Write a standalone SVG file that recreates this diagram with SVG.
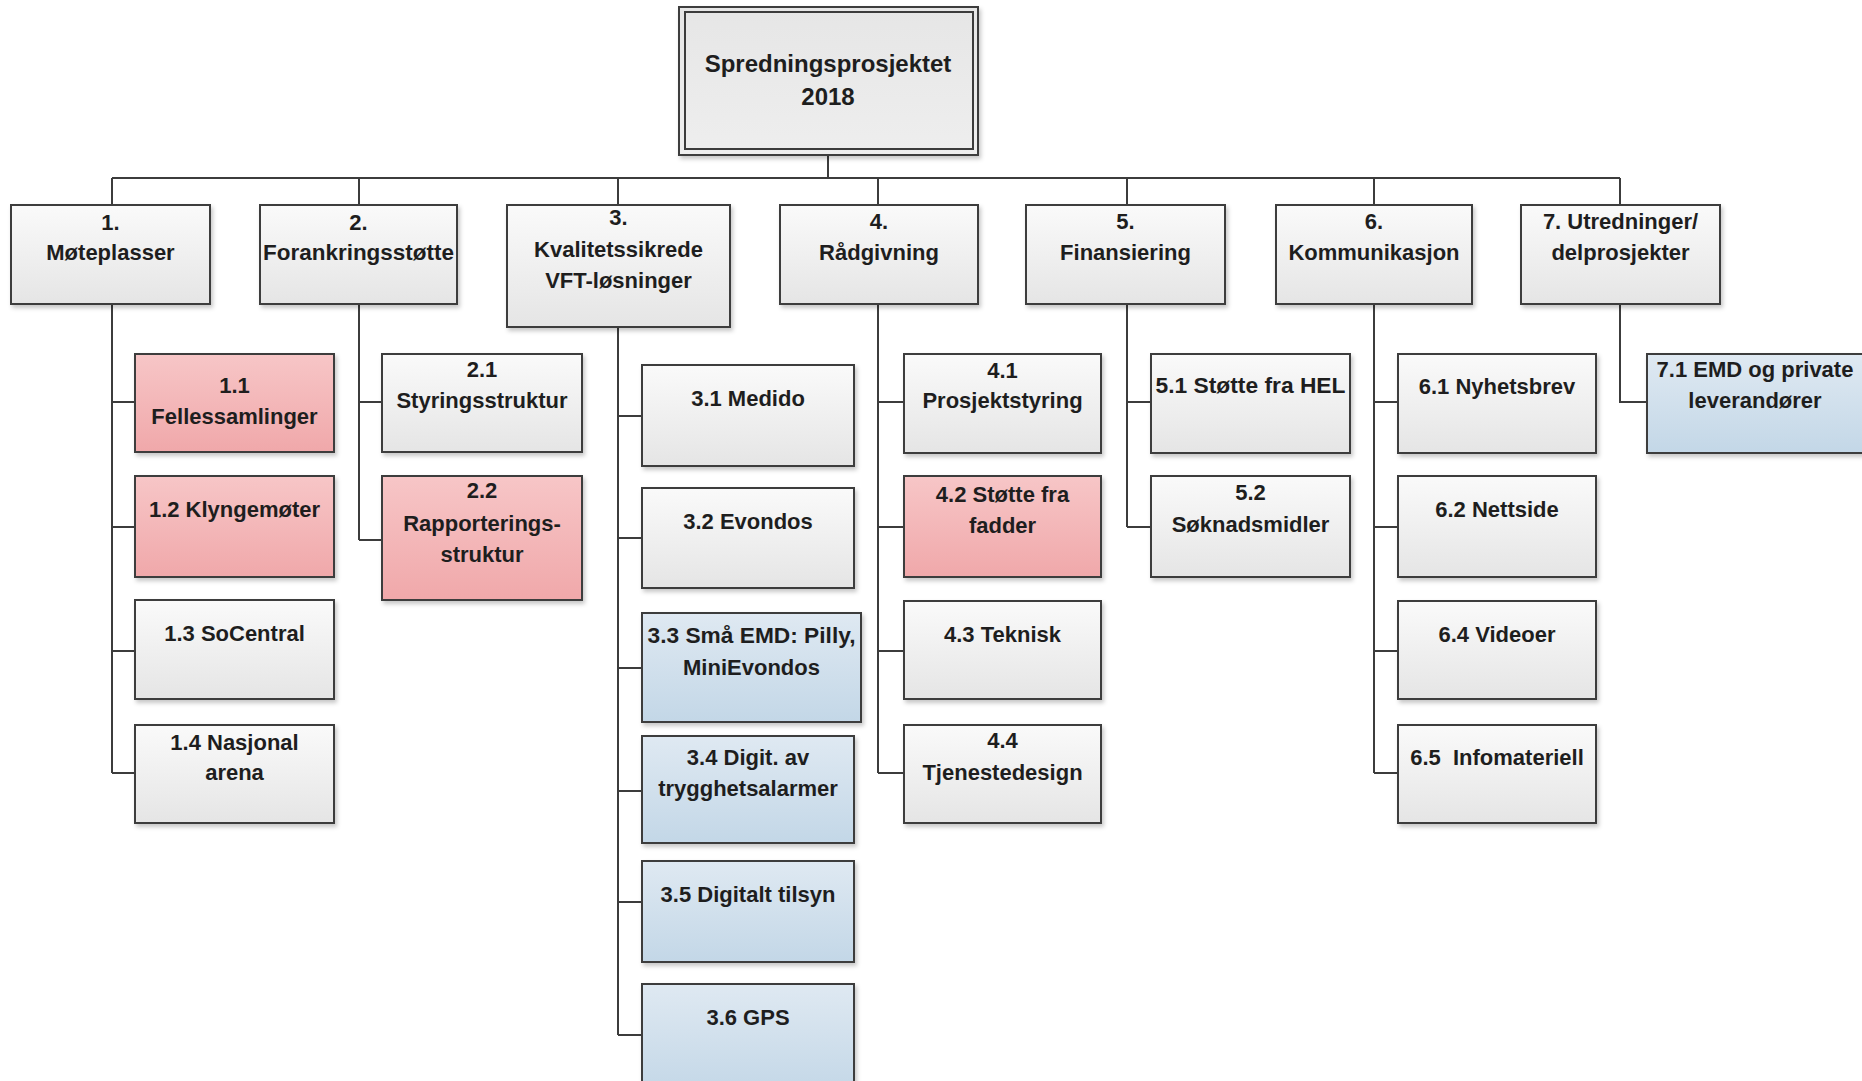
<svg xmlns="http://www.w3.org/2000/svg" width="1862" height="1081" viewBox="0 0 1862 1081">
<style>
.box{stroke:#3c3c3c;stroke-width:2;filter:url(#sh)}
.g{fill:url(#gGray)}
.p{fill:url(#gPink)}
.b{fill:url(#gBlue)}
.t{font-family:"Liberation Sans",Arial,sans-serif;font-weight:bold;font-size:22px;fill:#1e1e1e;text-anchor:middle}
.root{font-size:24px}
.con{stroke:#3c3c3c;stroke-width:2;fill:none}
</style>
<defs>
<linearGradient id="gGray" x1="0" y1="0" x2="0" y2="1"><stop offset="0" stop-color="#fafafa"/><stop offset="1" stop-color="#e5e5e5"/></linearGradient>
<linearGradient id="gPink" x1="0" y1="0" x2="0" y2="1"><stop offset="0" stop-color="#f7c6c7"/><stop offset="1" stop-color="#f0a8aa"/></linearGradient>
<linearGradient id="gBlue" x1="0" y1="0" x2="0" y2="1"><stop offset="0" stop-color="#dfe9f2"/><stop offset="1" stop-color="#c3d7e7"/></linearGradient>
<linearGradient id="gRoot" x1="0" y1="0" x2="0" y2="1"><stop offset="0" stop-color="#e6e6e6"/><stop offset="1" stop-color="#eeeeee"/></linearGradient>
<filter id="sh" x="-10%" y="-10%" width="125%" height="130%"><feDropShadow dx="2" dy="3" stdDeviation="2" flood-color="#000" flood-opacity="0.22"/></filter>
</defs>
<rect width="1862" height="1081" fill="#ffffff"/>

<g id="connectors">
<path class="con" d="M828 155V178M112 178H1620M112 178V205M359 178V205M618 178V205M878 178V205M1127 178V205M1374 178V205M1620 178V205"/>
<path class="con" d="M112 304V773M112 402H135M112 527H135M112 651H135M112 773H135"/>
<path class="con" d="M359 304V540M359 402H382M359 540H382"/>
<path class="con" d="M618 327V1035M618 416H642M618 538H642M618 668H642M618 791H642M618 902H642M618 1035H642"/>
<path class="con" d="M878 304V773M878 402H904M878 527H904M878 651H904M878 773H904"/>
<path class="con" d="M1127 304V527M1127 402H1151M1127 527H1151"/>
<path class="con" d="M1374 304V773M1374 402H1398M1374 527H1398M1374 651H1398M1374 773H1398"/>
<path class="con" d="M1620 304V402H1647"/>
</g>

<g id="root">
<rect x="679" y="7" width="299" height="148" fill="url(#gRoot)" stroke="#3c3c3c" stroke-width="2" filter="url(#sh)"/>
<rect x="685" y="12" width="288" height="137" fill="none" stroke="#3c3c3c" stroke-width="2"/>
<text class="t root" x="828" y="72">Spredningsprosjektet</text>
<text class="t root" x="828" y="105">2018</text>
</g>

<g id="n1"><rect class="box g" x="11" y="205" width="199" height="99"/><text class="t" x="110.5" y="230">1.</text><text class="t" x="110.5" y="260">Møteplasser</text></g>
<g id="n2"><rect class="box g" x="260" y="205" width="197" height="99"/><text class="t" x="358.5" y="230">2.</text><text class="t" x="358.5" y="260" textLength="191" lengthAdjust="spacingAndGlyphs">Forankringsstøtte</text></g>
<g id="n3"><rect class="box g" x="507" y="205" width="223" height="122"/><text class="t" x="618.5" y="225">3.</text><text class="t" x="618.5" y="257">Kvalitetssikrede</text><text class="t" x="618.5" y="288">VFT-løsninger</text></g>
<g id="n4"><rect class="box g" x="780" y="205" width="198" height="99"/><text class="t" x="879" y="229">4.</text><text class="t" x="879" y="260">Rådgivning</text></g>
<g id="n5"><rect class="box g" x="1026" y="205" width="199" height="99"/><text class="t" x="1125.5" y="229">5.</text><text class="t" x="1125.5" y="260">Finansiering</text></g>
<g id="n6"><rect class="box g" x="1276" y="205" width="196" height="99"/><text class="t" x="1374" y="229">6.</text><text class="t" x="1374" y="260">Kommunikasjon</text></g>
<g id="n7"><rect class="box g" x="1521" y="205" width="199" height="99"/><text class="t" x="1620.5" y="229">7. Utredninger/</text><text class="t" x="1620.5" y="260">delprosjekter</text></g>

<g id="n1_1"><rect class="box p" x="135" y="354" width="199" height="98"/><text class="t" x="234.5" y="393">1.1</text><text class="t" x="234.5" y="424">Fellessamlinger</text></g>
<g id="n1_2"><rect class="box p" x="135" y="476" width="199" height="101"/><text class="t" x="234.5" y="517">1.2 Klyngemøter</text></g>
<g id="n1_3"><rect class="box g" x="135" y="600" width="199" height="99"/><text class="t" x="234.5" y="641">1.3 SoCentral</text></g>
<g id="n1_4"><rect class="box g" x="135" y="725" width="199" height="98"/><text class="t" x="234.5" y="750">1.4 Nasjonal</text><text class="t" x="234.5" y="780">arena</text></g>

<g id="n2_1"><rect class="box g" x="382" y="354" width="200" height="98"/><text class="t" x="482" y="377">2.1</text><text class="t" x="482" y="408">Styringsstruktur</text></g>
<g id="n2_2"><rect class="box p" x="382" y="476" width="200" height="124"/><text class="t" x="482" y="498">2.2</text><text class="t" x="482" y="531">Rapporterings-</text><text class="t" x="482" y="562">struktur</text></g>

<g id="n3_1"><rect class="box g" x="642" y="365" width="212" height="101"/><text class="t" x="748" y="406">3.1 Medido</text></g>
<g id="n3_2"><rect class="box g" x="642" y="488" width="212" height="100"/><text class="t" x="748" y="529">3.2 Evondos</text></g>
<g id="n3_3"><rect class="box b" x="642" y="613" width="219" height="109"/><text class="t" x="751.5" y="643" textLength="208" lengthAdjust="spacingAndGlyphs">3.3 Små EMD: Pilly,</text><text class="t" x="751.5" y="675">MiniEvondos</text></g>
<g id="n3_4"><rect class="box b" x="642" y="736" width="212" height="107"/><text class="t" x="748" y="765">3.4 Digit. av</text><text class="t" x="748" y="796">trygghetsalarmer</text></g>
<g id="n3_5"><rect class="box b" x="642" y="861" width="212" height="101"/><text class="t" x="748" y="902">3.5 Digitalt tilsyn</text></g>
<g id="n3_6"><rect class="box b" x="642" y="984" width="212" height="110"/><text class="t" x="748" y="1025">3.6 GPS</text></g>

<g id="n4_1"><rect class="box g" x="904" y="354" width="197" height="99"/><text class="t" x="1002.5" y="378">4.1</text><text class="t" x="1002.5" y="408">Prosjektstyring</text></g>
<g id="n4_2"><rect class="box p" x="904" y="476" width="197" height="101"/><text class="t" x="1002.5" y="502">4.2 Støtte fra</text><text class="t" x="1002.5" y="533">fadder</text></g>
<g id="n4_3"><rect class="box g" x="904" y="601" width="197" height="98"/><text class="t" x="1002.5" y="642">4.3 Teknisk</text></g>
<g id="n4_4"><rect class="box g" x="904" y="725" width="197" height="98"/><text class="t" x="1002.5" y="748">4.4</text><text class="t" x="1002.5" y="780">Tjenestedesign</text></g>

<g id="n5_1"><rect class="box g" x="1151" y="354" width="199" height="99"/><text class="t" x="1250.5" y="393" textLength="190" lengthAdjust="spacingAndGlyphs">5.1 Støtte fra HEL</text></g>
<g id="n5_2"><rect class="box g" x="1151" y="476" width="199" height="101"/><text class="t" x="1250.5" y="500">5.2</text><text class="t" x="1250.5" y="532">Søknadsmidler</text></g>

<g id="n6_1"><rect class="box g" x="1398" y="354" width="198" height="99"/><text class="t" x="1497" y="394">6.1 Nyhetsbrev</text></g>
<g id="n6_2"><rect class="box g" x="1398" y="476" width="198" height="101"/><text class="t" x="1497" y="517">6.2 Nettside</text></g>
<g id="n6_4"><rect class="box g" x="1398" y="601" width="198" height="98"/><text class="t" x="1497" y="642">6.4 Videoer</text></g>
<g id="n6_5"><rect class="box g" x="1398" y="725" width="198" height="98"/><text class="t" x="1497" y="765" xml:space="preserve">6.5  Infomateriell</text></g>

<g id="n7_1"><rect class="box b" x="1647" y="354" width="230" height="99"/><text class="t" x="1755" y="377">7.1 EMD og private</text><text class="t" x="1755" y="408">leverandører</text></g>
</svg>
